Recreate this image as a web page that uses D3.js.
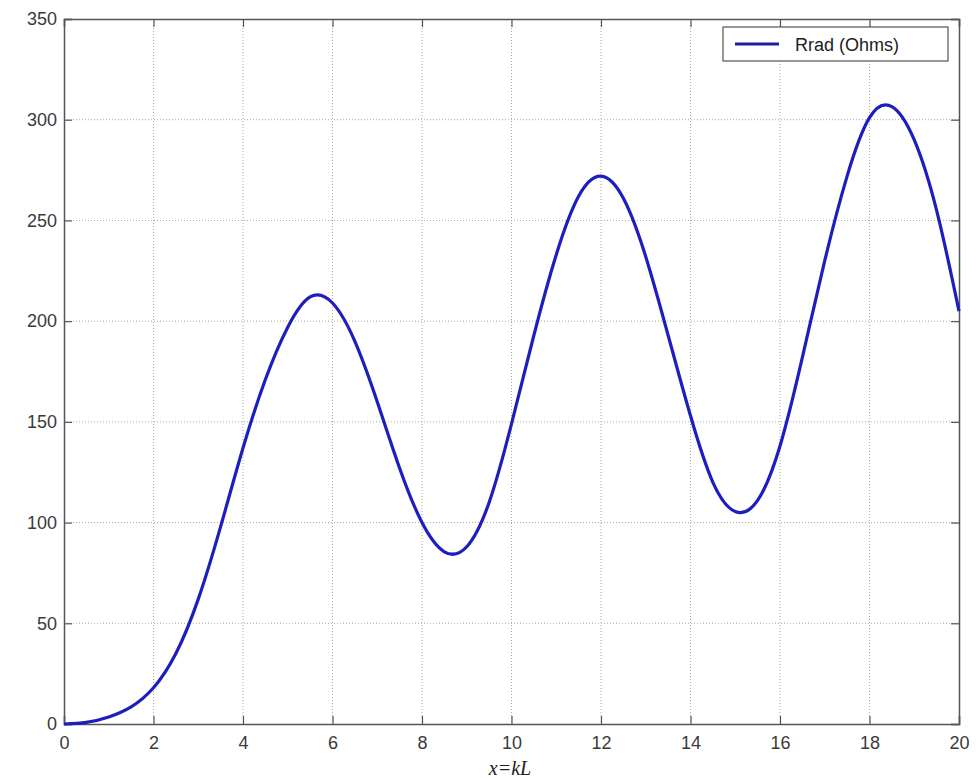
<!DOCTYPE html>
<html>
<head>
<meta charset="utf-8">
<script src="https://cdn.jsdelivr.net/npm/d3@7"></script>
<style>
  body { margin: 0; background: #fff; }
  svg { display: block; }
</style>
</head>
<body>
<svg id="chart" width="976" height="782"></svg>
<script>
// x = kL, values every 0.5
const kL = [0, 0.5, 1, 1.5, 2, 2.5, 3, 3.5, 4, 4.5, 5, 5.5, 6, 6.5, 7, 7.5, 8, 8.5, 9, 9.5,
  10, 10.5, 11, 11.5, 12, 12.5, 13, 13.5, 14, 14.5, 15, 15.5, 16, 16.5, 17, 17.5, 18, 18.5,
  19, 19.5, 20]
const rrad = [0, 0.8, 3.5, 8.5, 18, 35, 62, 98, 137, 171, 197, 212, 209, 190, 160, 127, 100, 85.5, 88, 110,
  149, 193, 233, 262, 272, 261, 232, 193, 153, 120, 105.5, 111, 138, 182, 230, 272, 301, 306.5,
  290, 255, 205]
const xTicks = [0, 2, 4, 6, 8, 10, 12, 14, 16, 18, 20]
const yTicks = [0, 50, 100, 150, 200, 250, 300, 350]
const seriesName = 'Rrad (Ohms)'

const svg = d3.select('#chart')
// plot box edges (in px)
const pL = 64, pR = 959, pT = 19, pB = 724

const x = d3.scaleLinear().domain([0, 20]).range([pL, pR])
const y = d3.scaleLinear().domain([0, 350]).range([pB, pT])

// dotted grid
const grid = svg.append('g').attr('stroke', '#aaa').attr('stroke-width', 1).attr('stroke-dasharray', '1,2')
grid.selectAll('.gx').data(xTicks.slice(1, -1)).join('line')
  .attr('x1', d => x(d)).attr('x2', d => x(d)).attr('y1', pT).attr('y2', pB)
grid.selectAll('.gy').data(yTicks.slice(1, -1)).join('line')
  .attr('y1', d => y(d)).attr('y2', d => y(d)).attr('x1', pL).attr('x2', pR)

// axes, ticks inward like matlab
const font = '"Liberation Sans", Arial, sans-serif'
const xAxis = svg.append('g').attr('transform', `translate(0,${pB})`)
  .call(d3.axisBottom(x).tickValues(xTicks).tickSize(-8).tickPadding(12))
const yAxis = svg.append('g').attr('transform', `translate(${pL},0)`)
  .call(d3.axisLeft(y).tickValues(yTicks).tickSize(-8).tickPadding(7))
const xTop = svg.append('g').attr('transform', `translate(0,${pT})`)
  .call(d3.axisTop(x).tickValues(xTicks).tickSize(-8).tickFormat(''))
const yRight = svg.append('g').attr('transform', `translate(${pR},0)`)
  .call(d3.axisRight(y).tickValues(yTicks).tickSize(-8).tickFormat(''))

for (const a of [xAxis, yAxis, xTop, yRight]) {
  a.select('.domain').attr('stroke', '#555').attr('stroke-width', 1.5)
  a.selectAll('.tick line').attr('stroke', '#555').attr('stroke-width', 1.2)
  a.selectAll('.tick text').attr('fill', '#3a3a3a').style('font-family', font).style('font-size', '18px')
}

// the curve
const line = d3.line().x((d, i) => x(kL[i])).y(d => y(d)).curve(d3.curveNatural)
svg.append('path').datum(rrad)
  .attr('fill', 'none').attr('stroke', '#1e1ebe').attr('stroke-width', 3.2)
  .attr('stroke-linejoin', 'round')
  .attr('d', line)

// x label
svg.append('text').attr('x', 510).attr('y', 775).attr('text-anchor', 'middle')
  .style('font-family', '"Liberation Serif", "Times New Roman", serif').style('font-size', '20px')
  .style('font-style', 'italic').attr('fill', '#222')
  .text('x=kL')

// legend
const lg = svg.append('g')
lg.append('rect').attr('x', 723).attr('y', 27).attr('width', 225).attr('height', 34)
  .attr('fill', '#fff').attr('stroke', '#555').attr('stroke-width', 1.2)
lg.append('line').attr('x1', 735).attr('x2', 779).attr('y1', 44).attr('y2', 44)
  .attr('stroke', '#1e1e9a').attr('stroke-width', 3)
lg.append('text').attr('x', 795).attr('y', 51)
  .style('font-family', font).style('font-size', '18px').attr('fill', '#222')
  .text(seriesName)
</script>
</body>
</html>
